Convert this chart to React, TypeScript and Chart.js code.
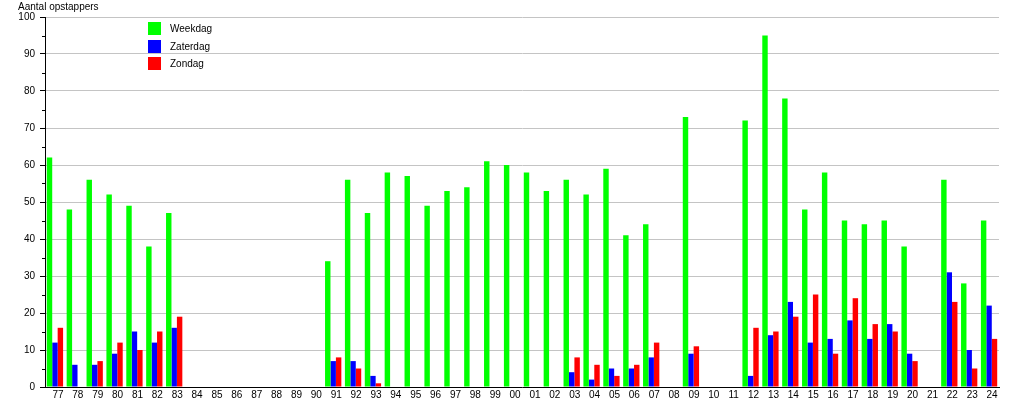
import React, { useEffect, useRef } from "react";
import { Chart, registerables } from "chart.js";

Chart.register(...registerables);

const categories = [
  "77", "78", "79", "80", "81", "82", "83", "84", "85", "86", "87", "88", "89", "90",
  "91", "92", "93", "94", "95", "96", "97", "98", "99",
  "00", "01", "02", "03", "04", "05", "06", "07", "08", "09", "10", "11",
  "12", "13", "14", "15", "16", "17", "18", "19", "20", "21", "22", "23", "24",
];

const weekdag = [
  62, 48, 56, 52, 49, 38, 47, 0, 0, 0, 0, 0, 0, 0,
  34, 56, 47, 58, 57, 49, 53, 54, 61,
  60, 58, 53, 56, 52, 59, 41, 44, 0, 73, 0, 0,
  72, 95, 78, 48, 58, 45, 44, 45, 38, 0, 56, 28, 45,
];

const zaterdag = [
  12, 6, 6, 9, 15, 12, 16, 0, 0, 0, 0, 0, 0, 0,
  7, 7, 3, 0, 0, 0, 0, 0, 0,
  0, 0, 0, 4, 2, 5, 5, 8, 0, 9, 0, 0,
  3, 14, 23, 12, 13, 18, 13, 17, 9, 0, 31, 10, 22,
];

const zondag = [
  16, 0, 7, 12, 10, 15, 19, 0, 0, 0, 0, 0, 0, 0,
  8, 5, 1, 0, 0, 0, 0, 0, 0,
  0, 0, 0, 8, 6, 3, 6, 12, 0, 11, 0, 0,
  16, 15, 19, 25, 9, 24, 17, 15, 7, 0, 23, 5, 13,
];

const seriesNames = ["Weekdag", "Zaterdag", "Zondag"];
const seriesColors = ["#00ff00", "#0000ff", "#ff0000"];
const yTitle = "Aantal opstappers";

const FONT = "'Liberation Sans', Arial, sans-serif";

export default function App() {
  const ref = useRef<HTMLCanvasElement | null>(null);

  useEffect(() => {
    if (!ref.current) return;

    const overlay = {
      id: "overlay",
      afterDraw(chart: any) {
        const ctx = chart.ctx;
        const area = chart.chartArea;
        const y = chart.scales.y;
        ctx.save();
        // minor ticks
        ctx.strokeStyle = "#000";
        ctx.lineWidth = 1;
        for (let v = 5; v < 100; v += 10) {
          const py = Math.round(y.getPixelForValue(v)) + 0.5;
          ctx.beginPath();
          ctx.moveTo(area.left - 3, py);
          ctx.lineTo(area.left, py);
          ctx.stroke();
        }
        // title
        ctx.fillStyle = "#000";
        ctx.font = `10px ${FONT}`;
        ctx.textAlign = "left";
        ctx.textBaseline = "middle";
        ctx.fillText(yTitle, 18, 7);
        // legend
        chart.data.datasets.forEach((ds: any, i: number) => {
          const top = 22 + i * 17.5;
          ctx.fillStyle = ds.backgroundColor;
          ctx.fillRect(148, Math.round(top), 13, 13);
          ctx.fillStyle = "#000";
          ctx.fillText(ds.label, 170, Math.round(top) + 7);
        });
        ctx.restore();
      },
    };

    const chart = new Chart(ref.current, {
      type: "bar",
      data: {
        labels: categories,
        datasets: [weekdag, zaterdag, zondag].map((d, i) => ({
          label: seriesNames[i],
          data: d,
          backgroundColor: seriesColors[i],
          borderWidth: 0,
          categoryPercentage: 0.82,
          barPercentage: 1.0,
        })),
      },
      options: {
        animation: false,
        responsive: false,
        layout: { padding: { left: 0, top: 17, right: 16, bottom: 0 } },
        plugins: {
          legend: { display: false },
          tooltip: { enabled: false },
          title: { display: false },
        },
        scales: {
          x: {
            grid: { display: false, drawTicks: false, tickLength: 0 },
            border: { display: true, color: "#000", width: 1 },
            ticks: {
              color: "#000",
              font: { family: FONT, size: 10 },
              padding: 2,
              labelOffset: 3,
              autoSkip: false,
              maxRotation: 0,
            },
            afterFit: (s: any) => {
              s.height = 13;
            },
          },
          y: {
            min: 0,
            max: 100,
            ticks: {
              stepSize: 10,
              color: "#000",
              font: { family: FONT, size: 10 },
              padding: 5,
            },
            grid: {
              color: "#c4c4c4",
              tickColor: "#000",
              tickLength: 5,
            },
            border: { display: true, color: "#000", width: 1 },
            afterFit: (s: any) => {
              s.width = 45;
            },
          },
        },
      },
      plugins: [overlay],
    });

    return () => chart.destroy();
  }, []);

  return (
    <canvas
      ref={ref}
      width={1015}
      height={400}
      style={{ position: "absolute", left: 0, top: 0, display: "block" }}
    />
  );
}
